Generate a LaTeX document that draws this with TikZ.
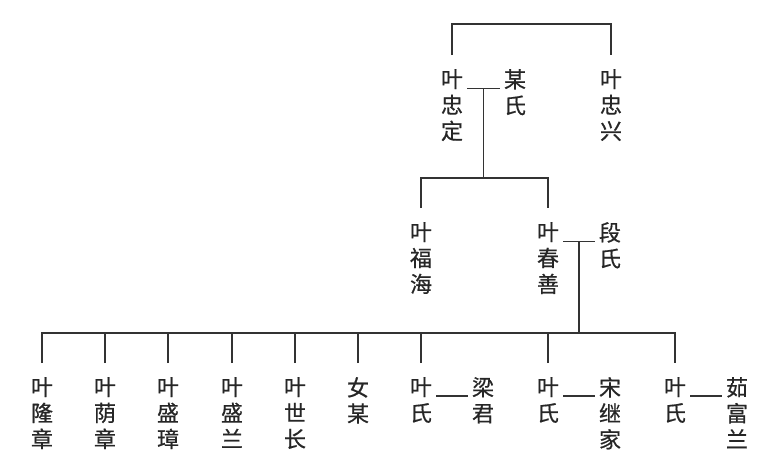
\documentclass[tikz,border=0pt]{standalone}
\usepackage{fontspec}
\newfontfamily\cjk[FakeBold=0.6]{Noto Sans CJK SC}
\usetikzlibrary{calc}

\tikzset{
  person/.style={anchor=north, align=center, inner xsep=4pt, inner ysep=14pt,
    text=black!85, font=\cjk\fontsize{22}{26}\selectfont},
  link/.style={line width=1.1pt, draw=black!80}
}

\begin{document}
\begin{tikzpicture}[x=1pt,y=-1pt]
  \useasboundingbox (0,0) rectangle (777,472);

  % first generation
  \node[person] (zd) at (452,55) {叶\\忠\\定};
  \node[person] (ms) at (515,55) {某\\氏};
  \node[person] (zx) at (611,55) {叶\\忠\\兴};
  \coordinate (top) at (531,24);
  \draw[link] (zd.north) |- (top) -| (zx.north);
  \draw[link] ([yshift=4pt]ms.west) -- coordinate[pos=0.5] (m1) ([yshift=4pt]ms.west -| zd.east);

  % second generation
  \node[person] (fh) at (421,208) {叶\\福\\海};
  \node[person] (cs) at (548,208) {叶\\春\\善};
  \node[person] (ds) at (610,208) {段\\氏};
  \coordinate (b1) at (484,178);
  \draw[link] (m1) -- (m1 |- b1);
  \draw[link] (fh.north) |- (b1) -| (cs.north);
  \draw[link] ([yshift=4pt]ds.west) -- coordinate[pos=0.5] (m2) ([yshift=4pt]ds.west -| cs.east);

  % third generation
  \node[person] (c1) at (42,363) {叶\\隆\\章};
  \node[person] (c2) at (105,363) {叶\\荫\\章};
  \node[person] (c3) at (168,363) {叶\\盛\\璋};
  \node[person] (c4) at (232,363) {叶\\盛\\兰};
  \node[person] (c5) at (295,363) {叶\\世\\长};
  \node[person] (c6) at (358,363) {女\\某};
  \node[person] (c7) at (421,363) {叶\\氏};
  \node[person] (c8) at (548,363) {叶\\氏};
  \node[person] (c9) at (675,363) {叶\\氏};
  \node[person] (s1) at (483,363) {梁\\君};
  \node[person] (s2) at (610,363) {宋\\继\\家};
  \node[person] (s3) at (737,363) {茹\\富\\兰};
  \coordinate (b2) at (580,333);
  \draw[link] (m2) -- (m2 |- b2);
  \draw[link] (c1.north) |- (b2) -| (c9.north);
  \foreach \c in {c2,c3,c4,c5,c6,c7,c8}
    \draw[link] (\c.north) -- (\c.north |- b2);
  \foreach \c/\s in {c7/s1,c8/s2,c9/s3}
    \draw[link] ([yshift=4pt]\c.east) -- ([yshift=4pt]\c.east -| \s.west);
\end{tikzpicture}
\end{document}
